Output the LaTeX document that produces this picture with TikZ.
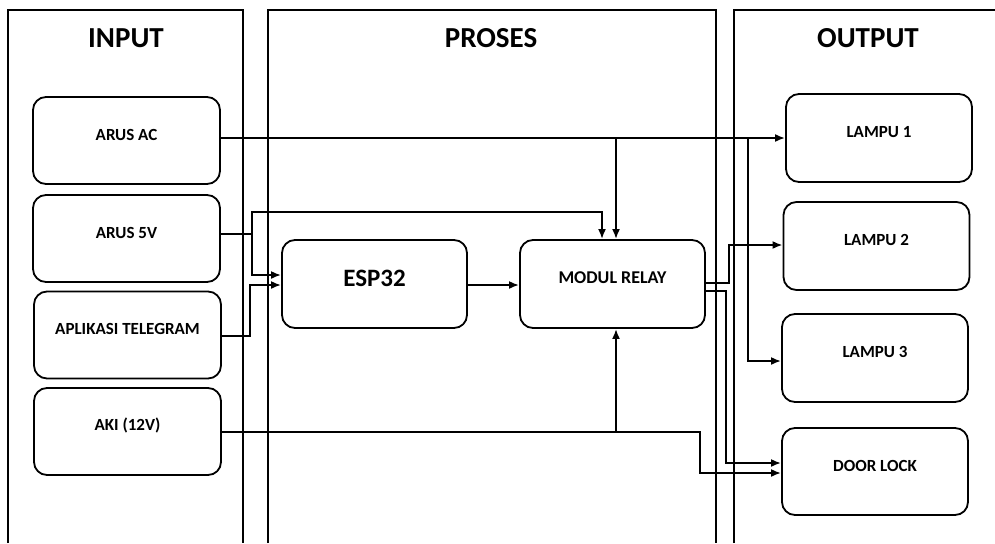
\documentclass[tikz,border=0pt]{standalone}
\usepackage{fontspec}
\setmainfont{Carlito}
\usetikzlibrary{arrows.meta,calc}
\begin{document}
\begin{tikzpicture}[x=1pt,y=-1pt,
  panel/.style={draw, line width=1.3pt},
  box/.style={draw, line width=1.8pt, rounded corners=13pt, minimum width=187pt, minimum height=87pt, inner sep=0pt},
  lbl/.style={font=\bfseries\fontsize{17}{19}\selectfont, inner sep=0pt},
  biglbl/.style={font=\bfseries\fontsize{25}{27}\selectfont, inner sep=0pt},
  ttl/.style={font=\bfseries\fontsize{29}{32}\selectfont, inner sep=0pt},
  wire/.style={line width=2.6pt},
  arr/.style={wire, -{Latex[length=10pt,width=8pt]}}]
\useasboundingbox (0,0) rectangle (995,543);
% panels
\draw[panel] (8,543) -- (8,10) -- (243,10) -- (243,543);
\draw[panel] (268,543) -- (268,10) -- (716,10) -- (716,543);
\draw[panel] (734,543) -- (734,10) -- (995,10);
\node[ttl] (tin) at (126,38) {INPUT};
\node[ttl] (tpr) at (491,38) {PROSES};
\node[ttl] (tout) at (868,38) {OUTPUT};
% input boxes
\node[box] (ac) at (126.5,140.5) {};
\node[box] (v5) at (126.5,238.5) {};
\node[box] (tg) at (127.5,335) {};
\node[box] (aki) at (127.5,431.5) {};
\node[lbl] (acT) at ([yshift=6pt]ac.center) {ARUS AC};
\node[lbl] (v5T) at ([yshift=6pt]v5.center) {ARUS 5V};
\node[lbl] (tgT) at ([yshift=6pt]tg.center) {APLIKASI TELEGRAM};
\node[lbl] (akiT) at ([yshift=6pt]aki.center) {AKI (12V)};
% process boxes
\node[box, minimum width=185pt, minimum height=88pt] (esp) at (374.5,284) {};
\node[box, minimum width=185pt, minimum height=88pt] (relay) at (612.5,284) {};
\node[biglbl] (espT) at ([yshift=6pt]esp.center) {ESP32};
\node[lbl, font=\bfseries\fontsize{18}{20}\selectfont] (relayT) at ([yshift=6pt]relay.center) {MODUL RELAY};
% output boxes
\node[box, minimum width=186pt, minimum height=88pt] (l1) at (879,138) {};
\node[box, minimum width=186pt, minimum height=88pt] (l2) at (876.5,246) {};
\node[box, minimum width=186pt, minimum height=88pt] (l3) at (875,358) {};
\node[box, minimum width=186pt, minimum height=87pt] (dl) at (875,471.5) {};
\node[lbl] (l1T) at ([yshift=6pt]l1.center) {LAMPU 1};
\node[lbl] (l2T) at ([yshift=6pt]l2.center) {LAMPU 2};
\node[lbl] (l3T) at ([yshift=6pt]l3.center) {LAMPU 3};
\node[lbl] (dlT) at ([yshift=6pt]dl.center) {DOOR LOCK};
% ARUS AC
\draw[arr] (ac.east |- 0,138) -- (l1.west |- 0,138);
\draw[arr] (616,138) -- (relay.north -| 616,0);
\draw[arr] (748,138) |- (l3.west |- 0,361);
% ARUS 5V
\draw[arr] (v5.east |- 0,234) -| (252,275) -- (esp.west |- 0,275);
\draw[arr] (252,234) |- (602,212) -- (relay.north -| 602,0);
% TELEGRAM
\draw[arr] (tg.east |- 0,336) -| (250,285) -- (esp.west |- 0,285);
% ESP32 -> relay
\draw[arr] (esp.east |- 0,285) -- (relay.west |- 0,285);
% AKI
\draw[arr] (aki.east |- 0,432) -| (700,473) -- (dl.west |- 0,473);
\draw[arr] (616,432) -- (relay.south -| 616,0);
% relay outputs
\draw[arr] (relay.east |- 0,283) -| (729,245) -- (l2.west |- 0,245);
\draw[arr] (relay.east |- 0,291) -| (726,463) -- (dl.west |- 0,463);
\end{tikzpicture}
\end{document}
